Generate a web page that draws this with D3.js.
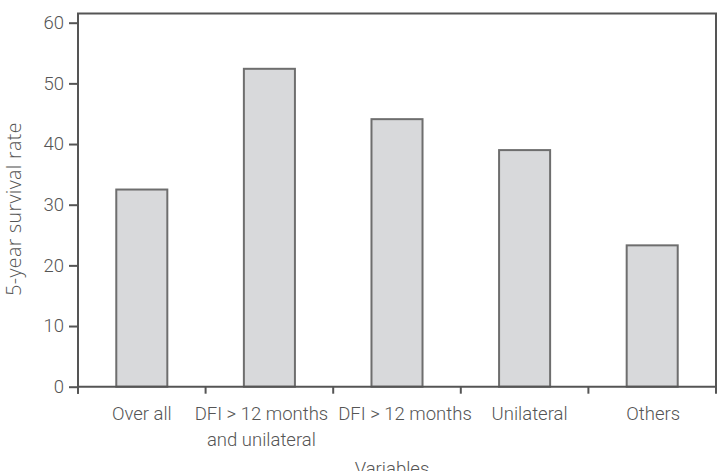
<!DOCTYPE html>
<html>
<head>
<meta charset="utf-8">
<script src="https://cdn.jsdelivr.net/npm/d3@7"></script>
<style>
  html, body { margin: 0; padding: 0; background: #fff; }
  svg { display: block; }
  text { font-family: Roboto, "Liberation Sans", sans-serif; fill: #555; font-weight: 300; }
</style>
</head>
<body>
<svg id="chart" width="717" height="471"></svg>
<script>
const categories = ["Over all", "DFI > 12 months\nand unilateral", "DFI > 12 months", "Unilateral", "Others"];
const values = [32.5, 52.4, 44.1, 39.0, 23.3];
const yTicks = [0, 10, 20, 30, 40, 50, 60];
const yTitle = "5-year survival rate";
const xTitle = "Variables";

// layout: horizontal nudges of category labels (px), as in the reference
const labelNudge = [0, -8, 8, 5, 1];

const svg = d3.select("#chart");
const plotLeft = 78, plotRight = 716, plotBottom = 386.7, plotTop = 13.5;

const x = d3.scaleBand().domain(categories).range([plotLeft, plotRight]).padding(0);
const y = d3.scaleLinear().domain([0, 60]).range([plotBottom, 22.7]);

const axisColor = "#555";

// bars
const bw = x.bandwidth() * 0.4;
svg.append("g").selectAll("rect").data(values).join("rect")
  .attr("x", (d, i) => x(categories[i]) + (x.bandwidth() - bw) / 2)
  .attr("y", d => y(d))
  .attr("width", bw)
  .attr("height", d => y(0) - y(d))
  .attr("fill", "#d8d9db")
  .attr("stroke", "#6e6e6e")
  .attr("stroke-width", 2);

// frame
svg.append("path")
  .attr("d", `M${plotLeft},${plotBottom + 7}V${plotTop}H${plotRight}V${plotBottom}`)
  .attr("fill", "none").attr("stroke", axisColor).attr("stroke-width", 2);
svg.append("line")
  .attr("x1", plotLeft).attr("x2", plotRight + 1).attr("y1", plotBottom).attr("y2", plotBottom)
  .attr("stroke", axisColor).attr("stroke-width", 2);

// x ticks at band edges
const edges = categories.map(c => x(c)).concat([x(categories[categories.length - 1]) + x.bandwidth()]);
svg.append("g").selectAll("line").data(edges).join("line")
  .attr("x1", d => d).attr("x2", d => d)
  .attr("y1", plotBottom).attr("y2", plotBottom + 7)
  .attr("stroke", axisColor).attr("stroke-width", 2);

// x labels
const xl = svg.append("g").selectAll("text").data(categories).join("text")
  .attr("text-anchor", "middle")
  .attr("font-size", 18.5)
  .attr("transform", (d, i) => `translate(${x(d) + x.bandwidth() / 2 + labelNudge[i]},420)`);
xl.selectAll("tspan").data(d => d.split("\n")).join("tspan")
  .attr("x", 0).attr("dy", (d, i) => i === 0 ? 0 : 25.5)
  .text(d => d);

// y axis ticks + labels
const yAxis = d3.axisLeft(y).tickValues(yTicks).tickSize(9).tickPadding(5);
const ga = svg.append("g").attr("transform", `translate(${plotLeft},0)`).call(yAxis);
ga.select(".domain").remove();
ga.selectAll(".tick line").attr("stroke", axisColor).attr("stroke-width", 2);
ga.selectAll(".tick text")
  .attr("font-size", 18.5)
  .attr("font-family", "Roboto, sans-serif")
  .attr("fill", "#555");

// titles
svg.append("text")
  .attr("transform", "translate(21,209) rotate(-90)")
  .attr("text-anchor", "middle")
  .attr("font-size", 19.5)
  .attr("letter-spacing", 0.4)
  .style("font-family", "'Open Sans', sans-serif")
  .style("font-weight", 300)
  .text(yTitle);

svg.append("text")
  .attr("x", 392).attr("y", 475)
  .attr("text-anchor", "middle")
  .attr("font-size", 18.5)
  .text(xTitle);
</script>
</body>
</html>
